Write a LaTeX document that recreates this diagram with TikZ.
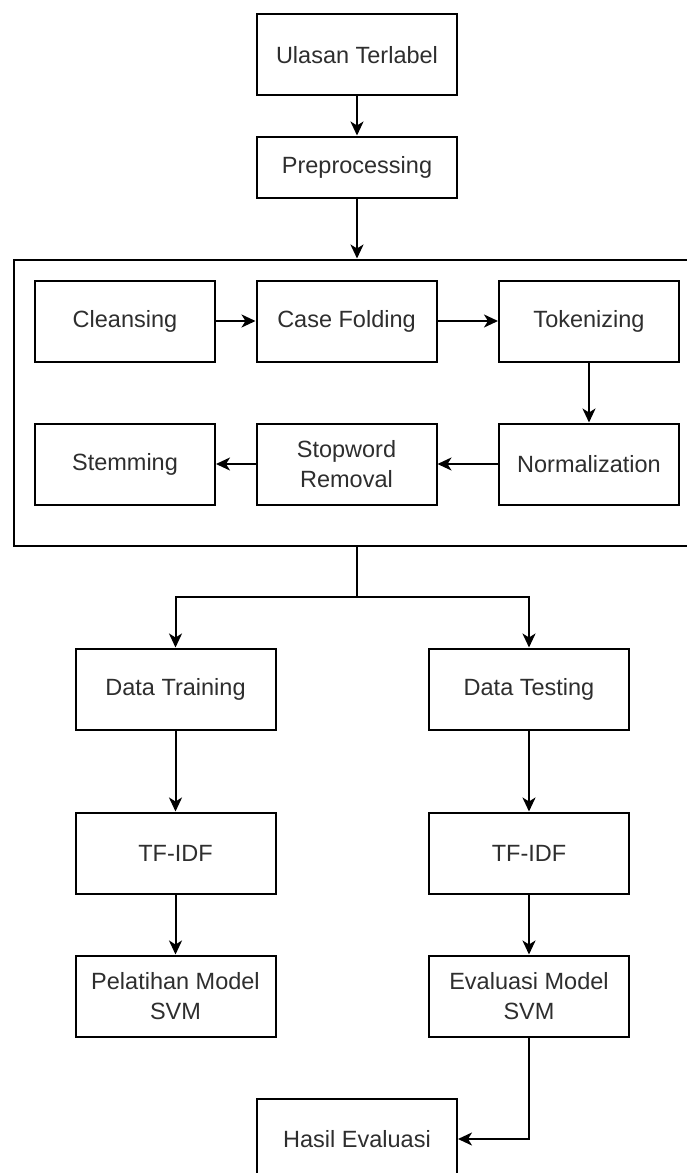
\documentclass[tikz,border=0pt]{standalone}
\usepackage{fontspec}
\setmainfont{Liberation Sans}
\usetikzlibrary{arrows.meta}
\begin{document}
\begin{tikzpicture}[x=1pt,y=-1pt,
  box/.style={draw, line width=2pt, minimum width=200pt, minimum height=81pt, align=center,
    font=\fontsize{23.5}{30}\selectfont, text=black!82, inner sep=0pt},
  sbox/.style={box, minimum width=180pt},
  arr/.style={line width=2pt, -{Stealth[length=14pt,width=13pt,inset=4pt]}},
  ln/.style={line width=2pt}]
\clip (0,0) rectangle (687,1173);
\fill[white] (0,0) rectangle (687,1173);
% top
\node[box] (ulasan) at (357,54.6) {Ulasan Terlabel};
\node[box, minimum height=61pt] (pre) at (357,167) {Preprocessing};
% big container
\node[draw, line width=2pt, minimum width=686pt, minimum height=286pt, inner sep=0pt] (big) at (357,402.5) {};
\node[sbox] (clean) at (125,321) {Cleansing};
\node[sbox] (case) at (346.5,321) {Case Folding};
\node[sbox] (token) at (589,321) {Tokenizing};
\node[sbox] (stem) at (125,464) {Stemming};
\node[sbox] (stop) at (346.5,464) {Stopword\\Removal};
\node[sbox] (norm) at (589,464) {Normalization};
% lower
\node[box] (train) at (175.5,689) {Data Training};
\node[box] (test) at (529,689) {Data Testing};
\node[box] (tfl) at (175.5,853) {TF-IDF};
\node[box] (tfr) at (529,853) {TF-IDF};
\node[box] (svml) at (175.5,996) {Pelatihan Model\\SVM};
\node[box] (svmr) at (529,996) {Evaluasi Model\\SVM};
\node[box] (hasil) at (357,1139) {Hasil Evaluasi};
\coordinate (split) at (357,596.5);
% connectors
\draw[arr] (ulasan) -- (pre);
\draw[arr] (pre) -- (big.north);
\draw[arr] (clean) -- (case);
\draw[arr] (case) -- (token);
\draw[arr] (token) -- (norm);
\draw[arr] (norm) -- (stop);
\draw[arr] (stop) -- (stem);
\draw[ln] (big.south) -- (split);
\draw[arr] (split) -| (train.north);
\draw[arr] (split) -| (test.north);
\draw[arr] (train) -- (tfl);
\draw[arr] (test) -- (tfr);
\draw[arr] (tfl) -- (svml);
\draw[arr] (tfr) -- (svmr);
\draw[arr] (svmr.south) |- (hasil.east);
\end{tikzpicture}
\end{document}
